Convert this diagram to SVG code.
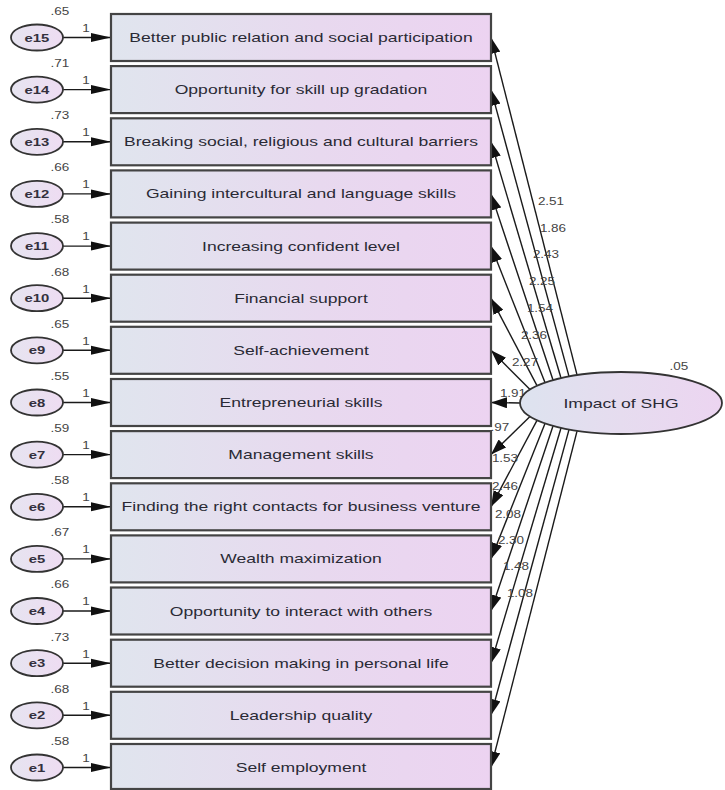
<svg xmlns="http://www.w3.org/2000/svg" width="725" height="790" viewBox="0 0 725 790">
<defs>
<linearGradient id="gBox" x1="0" y1="0" x2="1" y2="0">
<stop offset="0" stop-color="#e0e5ee"/>
<stop offset="0.55" stop-color="#e8d9ef"/>
<stop offset="1" stop-color="#ecd3f1"/>
</linearGradient>
<linearGradient id="gE" x1="0" y1="0" x2="1" y2="0">
<stop offset="0" stop-color="#e6e4f0"/>
<stop offset="1" stop-color="#eedcf2"/>
</linearGradient>
<linearGradient id="gL" x1="0" y1="0" x2="1" y2="0">
<stop offset="0" stop-color="#dde3ef"/>
<stop offset="0.5" stop-color="#e6dcef"/>
<stop offset="1" stop-color="#ecd5f1"/>
</linearGradient>
<marker id="ah" markerWidth="16" markerHeight="11" refX="16" refY="5.5" orient="auto" markerUnits="userSpaceOnUse">
<path d="M0,0 L16,5.5 L0,11 z" fill="#111"/>
</marker>
<marker id="ahh" markerWidth="20" markerHeight="10" refX="20" refY="5" orient="auto" markerUnits="userSpaceOnUse">
<path d="M0,0.5 L20,5 L0,9.5 z" fill="#111"/>
</marker>
</defs>
<style>
.box{fill:url(#gBox);stroke:#444;stroke-width:2.2}
.err{fill:url(#gE);stroke:#333;stroke-width:1.8}
.lat{fill:url(#gL);stroke:#333;stroke-width:1.8}
.t{font-family:"Liberation Sans",Arial,sans-serif;font-size:13px;fill:#2a2a35;text-anchor:middle}
.te{font-family:"Liberation Sans",Arial,sans-serif;font-size:11px;font-weight:bold;fill:#33303d;text-anchor:middle}
.n{font-family:"Liberation Sans",Arial,sans-serif;font-size:10px;fill:#444;text-anchor:middle}
.c{stroke:#1a1a1a;stroke-width:1.4;fill:none;marker-end:url(#ah)}
.ce{stroke:#1a1a1a;stroke-width:1.4;fill:none;marker-end:url(#ahh)}
</style>
<rect width="725" height="790" fill="#ffffff"/>

<g id="connectors">
<line class="ce" x1="63" y1="37.5" x2="111" y2="37.5"/>
<line class="ce" x1="63" y1="89.6" x2="111" y2="89.6"/>
<line class="ce" x1="63" y1="141.8" x2="111" y2="141.8"/>
<line class="ce" x1="63" y1="193.9" x2="111" y2="193.9"/>
<line class="ce" x1="63" y1="246.1" x2="111" y2="246.1"/>
<line class="ce" x1="63" y1="298.2" x2="111" y2="298.2"/>
<line class="ce" x1="63" y1="350.3" x2="111" y2="350.3"/>
<line class="ce" x1="63" y1="402.5" x2="111" y2="402.5"/>
<line class="ce" x1="63" y1="454.6" x2="111" y2="454.6"/>
<line class="ce" x1="63" y1="506.8" x2="111" y2="506.8"/>
<line class="ce" x1="63" y1="558.9" x2="111" y2="558.9"/>
<line class="ce" x1="63" y1="611" x2="111" y2="611"/>
<line class="ce" x1="63" y1="663.2" x2="111" y2="663.2"/>
<line class="ce" x1="63" y1="715.3" x2="111" y2="715.3"/>
<line class="ce" x1="63" y1="767.5" x2="111" y2="767.5"/>
<g class="n">
<text transform="translate(86,32) scale(1.35,1)">1</text><text transform="translate(86,84) scale(1.35,1)">1</text><text transform="translate(86,136) scale(1.35,1)">1</text><text transform="translate(86,188) scale(1.35,1)">1</text><text transform="translate(86,240) scale(1.35,1)">1</text>
<text transform="translate(86,293) scale(1.35,1)">1</text><text transform="translate(86,345) scale(1.35,1)">1</text><text transform="translate(86,397) scale(1.35,1)">1</text><text transform="translate(86,449) scale(1.35,1)">1</text><text transform="translate(86,501) scale(1.35,1)">1</text>
<text transform="translate(86,553) scale(1.35,1)">1</text><text transform="translate(86,605) scale(1.35,1)">1</text><text transform="translate(86,658) scale(1.35,1)">1</text><text transform="translate(86,710) scale(1.35,1)">1</text><text transform="translate(86,762) scale(1.35,1)">1</text>
</g>
<line class="c" x1="577.1" y1="375.1" x2="491" y2="37.5"/>
<line class="c" x1="569" y1="376.4" x2="491" y2="89.6"/>
<line class="c" x1="561" y1="378" x2="491" y2="141.8"/>
<line class="c" x1="553" y1="380" x2="491" y2="193.9"/>
<line class="c" x1="545" y1="382.5" x2="491" y2="246.1"/>
<line class="c" x1="537" y1="385.6" x2="491" y2="298.2"/>
<line class="c" x1="530" y1="389.5" x2="491" y2="350.3"/>
<line class="c" x1="520" y1="403" x2="491" y2="402.5"/>
<line class="c" x1="530" y1="416.5" x2="491" y2="454.6"/>
<line class="c" x1="537" y1="420.4" x2="491" y2="506.8"/>
<line class="c" x1="545" y1="423.5" x2="491" y2="558.9"/>
<line class="c" x1="553" y1="426" x2="491" y2="611"/>
<line class="c" x1="561" y1="428" x2="491" y2="663.2"/>
<line class="c" x1="569" y1="429.6" x2="491" y2="715.3"/>
<line class="c" x1="577.1" y1="430.9" x2="491" y2="767.5"/>
<g class="n">
<text transform="translate(551,205) scale(1.35,1)">2.51</text>
<text transform="translate(553,232) scale(1.35,1)">1.86</text>
<text transform="translate(546,258) scale(1.35,1)">2.43</text>
<text transform="translate(542,285) scale(1.35,1)">2.25</text>
<text transform="translate(540,312) scale(1.35,1)">1.54</text>
<text transform="translate(534,339) scale(1.35,1)">2.36</text>
<text transform="translate(525,366) scale(1.35,1)">2.27</text>
<text transform="translate(513,397) scale(1.35,1)">1.91</text>
<text transform="translate(500,431) scale(1.35,1)">.97</text>
<text transform="translate(505,462) scale(1.35,1)">1.53</text>
<text transform="translate(505,490) scale(1.35,1)">2.46</text>
<text transform="translate(508,518) scale(1.35,1)">2.08</text>
<text transform="translate(511,544) scale(1.35,1)">2.30</text>
<text transform="translate(516,570) scale(1.35,1)">1.48</text>
<text transform="translate(520,597) scale(1.35,1)">1.08</text>
</g>
</g>

<g id="v1"><rect class="box" x="111" y="14" width="380" height="47"/><text class="t" transform="translate(301,42) scale(1.35,1)">Better public relation and social participation</text></g>
<g id="v2"><rect class="box" x="111" y="66.1" width="380" height="47"/><text class="t" transform="translate(301,94.1) scale(1.35,1)">Opportunity for skill up gradation</text></g>
<g id="v3"><rect class="box" x="111" y="118.3" width="380" height="47"/><text class="t" transform="translate(301,146.3) scale(1.35,1)">Breaking social, religious and cultural barriers</text></g>
<g id="v4"><rect class="box" x="111" y="170.4" width="380" height="47"/><text class="t" transform="translate(301,198.4) scale(1.35,1)">Gaining intercultural and language skills</text></g>
<g id="v5"><rect class="box" x="111" y="222.6" width="380" height="47"/><text class="t" transform="translate(301,250.6) scale(1.35,1)">Increasing confident level</text></g>
<g id="v6"><rect class="box" x="111" y="274.7" width="380" height="47"/><text class="t" transform="translate(301,302.7) scale(1.35,1)">Financial support</text></g>
<g id="v7"><rect class="box" x="111" y="326.8" width="380" height="47"/><text class="t" transform="translate(301,354.8) scale(1.35,1)">Self-achievement</text></g>
<g id="v8"><rect class="box" x="111" y="379" width="380" height="47"/><text class="t" transform="translate(301,407) scale(1.35,1)">Entrepreneurial skills</text></g>
<g id="v9"><rect class="box" x="111" y="431.1" width="380" height="47"/><text class="t" transform="translate(301,459.1) scale(1.35,1)">Management skills</text></g>
<g id="v10"><rect class="box" x="111" y="483.3" width="380" height="47"/><text class="t" transform="translate(301,511.3) scale(1.35,1)">Finding the right contacts for business venture</text></g>
<g id="v11"><rect class="box" x="111" y="535.4" width="380" height="47"/><text class="t" transform="translate(301,563.4) scale(1.35,1)">Wealth maximization</text></g>
<g id="v12"><rect class="box" x="111" y="587.5" width="380" height="47"/><text class="t" transform="translate(301,615.5) scale(1.35,1)">Opportunity to interact with others</text></g>
<g id="v13"><rect class="box" x="111" y="639.7" width="380" height="47"/><text class="t" transform="translate(301,667.7) scale(1.35,1)">Better decision making in personal life</text></g>
<g id="v14"><rect class="box" x="111" y="691.8" width="380" height="47"/><text class="t" transform="translate(301,719.8) scale(1.35,1)">Leadership quality</text></g>
<g id="v15"><rect class="box" x="111" y="744" width="380" height="45"/><text class="t" transform="translate(301,772) scale(1.35,1)">Self employment</text></g>

<g id="e15"><ellipse class="err" cx="37" cy="37.5" rx="26" ry="13"/><text class="te" transform="translate(37,41.5) scale(1.35,1)">e15</text><text class="n" transform="translate(60,15) scale(1.35,1)">.65</text></g>
<g id="e14"><ellipse class="err" cx="37" cy="89.6" rx="26" ry="13"/><text class="te" transform="translate(37,93.6) scale(1.35,1)">e14</text><text class="n" transform="translate(60,67) scale(1.35,1)">.71</text></g>
<g id="e13"><ellipse class="err" cx="37" cy="141.8" rx="26" ry="13"/><text class="te" transform="translate(37,145.8) scale(1.35,1)">e13</text><text class="n" transform="translate(60,119) scale(1.35,1)">.73</text></g>
<g id="e12"><ellipse class="err" cx="37" cy="193.9" rx="26" ry="13"/><text class="te" transform="translate(37,197.9) scale(1.35,1)">e12</text><text class="n" transform="translate(60,171) scale(1.35,1)">.66</text></g>
<g id="e11"><ellipse class="err" cx="37" cy="246.1" rx="26" ry="13"/><text class="te" transform="translate(37,250.1) scale(1.35,1)">e11</text><text class="n" transform="translate(60,223) scale(1.35,1)">.58</text></g>
<g id="e10"><ellipse class="err" cx="37" cy="298.2" rx="26" ry="13"/><text class="te" transform="translate(37,302.2) scale(1.35,1)">e10</text><text class="n" transform="translate(60,276) scale(1.35,1)">.68</text></g>
<g id="e9"><ellipse class="err" cx="37" cy="350.3" rx="26" ry="13"/><text class="te" transform="translate(37,354.3) scale(1.35,1)">e9</text><text class="n" transform="translate(60,328) scale(1.35,1)">.65</text></g>
<g id="e8"><ellipse class="err" cx="37" cy="402.5" rx="26" ry="13"/><text class="te" transform="translate(37,406.5) scale(1.35,1)">e8</text><text class="n" transform="translate(60,380) scale(1.35,1)">.55</text></g>
<g id="e7"><ellipse class="err" cx="37" cy="454.6" rx="26" ry="13"/><text class="te" transform="translate(37,458.6) scale(1.35,1)">e7</text><text class="n" transform="translate(60,432) scale(1.35,1)">.59</text></g>
<g id="e6"><ellipse class="err" cx="37" cy="506.8" rx="26" ry="13"/><text class="te" transform="translate(37,510.8) scale(1.35,1)">e6</text><text class="n" transform="translate(60,484) scale(1.35,1)">.58</text></g>
<g id="e5"><ellipse class="err" cx="37" cy="558.9" rx="26" ry="13"/><text class="te" transform="translate(37,562.9) scale(1.35,1)">e5</text><text class="n" transform="translate(60,536) scale(1.35,1)">.67</text></g>
<g id="e4"><ellipse class="err" cx="37" cy="611" rx="26" ry="13"/><text class="te" transform="translate(37,615) scale(1.35,1)">e4</text><text class="n" transform="translate(60,588) scale(1.35,1)">.66</text></g>
<g id="e3"><ellipse class="err" cx="37" cy="663.2" rx="26" ry="13"/><text class="te" transform="translate(37,667.2) scale(1.35,1)">e3</text><text class="n" transform="translate(60,641) scale(1.35,1)">.73</text></g>
<g id="e2"><ellipse class="err" cx="37" cy="715.3" rx="26" ry="13"/><text class="te" transform="translate(37,719.3) scale(1.35,1)">e2</text><text class="n" transform="translate(60,693) scale(1.35,1)">.68</text></g>
<g id="e1"><ellipse class="err" cx="37" cy="767.5" rx="26" ry="13"/><text class="te" transform="translate(37,771.5) scale(1.35,1)">e1</text><text class="n" transform="translate(60,745) scale(1.35,1)">.58</text></g>

<g id="impact"><ellipse class="lat" cx="621" cy="403" rx="101" ry="31"/><text class="t" transform="translate(621,408) scale(1.35,1)">Impact of SHG</text><text class="n" transform="translate(679,370) scale(1.35,1)">.05</text></g>
</svg>
